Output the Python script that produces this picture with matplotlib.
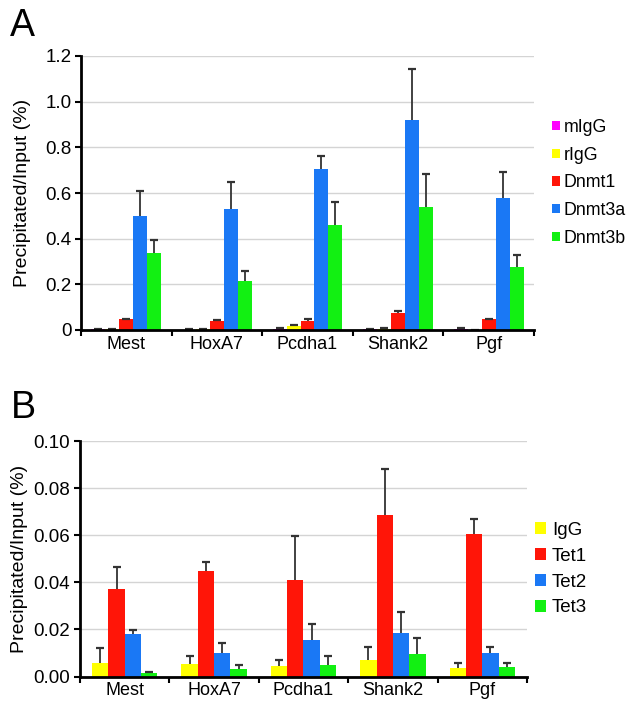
import matplotlib
matplotlib.use("Agg")
import matplotlib.pyplot as plt
import numpy as np
from matplotlib.patches import Patch

plt.rcParams['font.family'] = ['Liberation Sans', 'DejaVu Sans']

genes = ["Mest", "HoxA7", "Pcdha1", "Shank2", "Pgf"]

# Panel A
a_series = ["mIgG", "rIgG", "Dnmt1", "Dnmt3a", "Dnmt3b"]
a_colors = ["#ff00ff", "#ffff00", "#ff1508", "#1a78f5", "#12f012"]
a_mIgG = [0.003, 0.002, 0.005, 0.003, 0.005]
a_rIgG = [0.003, 0.003, 0.016, 0.005, 0.001]
a_Dnmt1 = [0.047, 0.041, 0.040, 0.073, 0.047]
a_Dnmt3a = [0.499, 0.531, 0.704, 0.920, 0.580]
a_Dnmt3b = [0.336, 0.216, 0.460, 0.537, 0.277]
a_err_mIgG = [0.002, 0.002, 0.003, 0.002, 0.003]
a_err_rIgG = [0.002, 0.002, 0.004, 0.003, 0.001]
a_err_Dnmt1 = [0.003, 0.004, 0.010, 0.012, 0.003]
a_err_Dnmt3a = [0.108, 0.118, 0.060, 0.222, 0.113]
a_err_Dnmt3b = [0.060, 0.042, 0.100, 0.148, 0.052]
a_yticks = [0, 0.2, 0.4, 0.6, 0.8, 1.0, 1.2]
a_yticklabels = ["0", "0.2", "0.4", "0.6", "0.8", "1.0", "1.2"]

# Panel B
b_series = ["IgG", "Tet1", "Tet2", "Tet3"]
b_colors = ["#ffff00", "#ff1508", "#1a78f5", "#12f012"]
b_IgG = [0.0057, 0.0054, 0.0045, 0.0071, 0.0036]
b_Tet1 = [0.0372, 0.0450, 0.0410, 0.0685, 0.0607]
b_Tet2 = [0.0181, 0.0098, 0.0157, 0.0185, 0.0099]
b_Tet3 = [0.0013, 0.0031, 0.0050, 0.0097, 0.0040]
b_err_IgG = [0.0062, 0.0035, 0.0026, 0.0053, 0.0022]
b_err_Tet1 = [0.0092, 0.0038, 0.0185, 0.0197, 0.0062]
b_err_Tet2 = [0.0016, 0.0045, 0.0065, 0.0089, 0.0026]
b_err_Tet3 = [0.0007, 0.0016, 0.0038, 0.0068, 0.0018]
b_yticks = [0.0, 0.02, 0.04, 0.06, 0.08, 0.10]
b_yticklabels = ["0.00", "0.02", "0.04", "0.06", "0.08", "0.10"]

fig = plt.figure(figsize=(6.27, 7.04), dpi=100)

def draw_panel(ax, vals, errs, colors, labels, total_w, yticks, yticklabels, ymax, lpad):
    n = len(vals)
    bw = total_w / n
    x = np.arange(len(genes)) + 0.5
    for i in range(n):
        pos = x - total_w / 2 + bw * (i + 0.5)
        v = np.array(vals[i])
        e = np.array(errs[i])
        ax.bar(pos, v, width=bw, color=colors[i], label=labels[i], zorder=2,
               linewidth=0)
        ax.vlines(pos, v, v + e, colors='#333333', linewidth=1.3, zorder=3)
        ax.plot(pos, v + e, linestyle='none', marker='_', markersize=6,
                markeredgewidth=1.6, color='#333333', zorder=3)
    ax.set_xlim(0, len(genes))
    ax.set_ylim(0, ymax)
    ax.set_yticks(yticks)
    ax.set_yticklabels(yticklabels, fontsize=13.5)
    ax.set_xticks(np.arange(len(genes) + 1))
    ax.set_xticklabels([])
    ax.set_xticks(x, minor=True)
    ax.set_xticklabels(genes, minor=True, fontsize=13)
    ax.tick_params(axis='x', which='minor', length=0, pad=4)
    ax.tick_params(axis='x', which='major', length=4, width=1.5, direction='out')
    ax.tick_params(axis='y', length=4, width=1.5, direction='out', pad=3)
    ax.yaxis.grid(True, color='#d4d4d4', linewidth=1.0, zorder=0)
    ax.set_axisbelow(True)
    for s in ['top', 'right']:
        ax.spines[s].set_visible(False)
    for s in ['left', 'bottom']:
        ax.spines[s].set_linewidth(2.0)
        ax.spines[s].set_zorder(4)
    ax.set_ylabel("Precipitated/Input (%)", fontsize=14, labelpad=lpad)

axA = fig.add_axes([81/627, 1 - 330/704, 453/627, 274/704])
draw_panel(axA, [a_mIgG, a_rIgG, a_Dnmt1, a_Dnmt3a, a_Dnmt3b],
           [a_err_mIgG, a_err_rIgG, a_err_Dnmt1, a_err_Dnmt3a, a_err_Dnmt3b],
           a_colors, a_series, 0.77, a_yticks, a_yticklabels, 1.2, 10)

axB = fig.add_axes([80/627, 1 - 676.5/704, 447/627, 235.5/704])
draw_panel(axB, [b_IgG, b_Tet1, b_Tet2, b_Tet3],
           [b_err_IgG, b_err_Tet1, b_err_Tet2, b_err_Tet3],
           b_colors, b_series, 0.73, b_yticks, b_yticklabels, 0.10, 4)

# legends
hA = [Patch(facecolor=c, edgecolor='none') for c in a_colors]
fig.legend(hA, a_series, loc='upper left', bbox_to_anchor=(552/627, 1 - 119/704),
           frameon=False, fontsize=12.8, handlelength=0.45, handleheight=0.45,
           handletextpad=0.2, labelspacing=0.6, borderaxespad=0, borderpad=0)

hB = [Patch(facecolor=c, edgecolor='none') for c in b_colors]
fig.legend(hB, b_series, loc='upper left', bbox_to_anchor=(535/627, 1 - 522/704),
           frameon=False, fontsize=13.5, handlelength=0.6, handleheight=0.6,
           handletextpad=0.3, labelspacing=0.47, borderaxespad=0, borderpad=0)

fig.text(10/627, 1 - 8/704, "A", fontsize=27, va='top', ha='left')
fig.text(11/627, 1 - 390/704, "B", fontsize=27, va='top', ha='left')

fig.savefig("out.png", dpi=100)
